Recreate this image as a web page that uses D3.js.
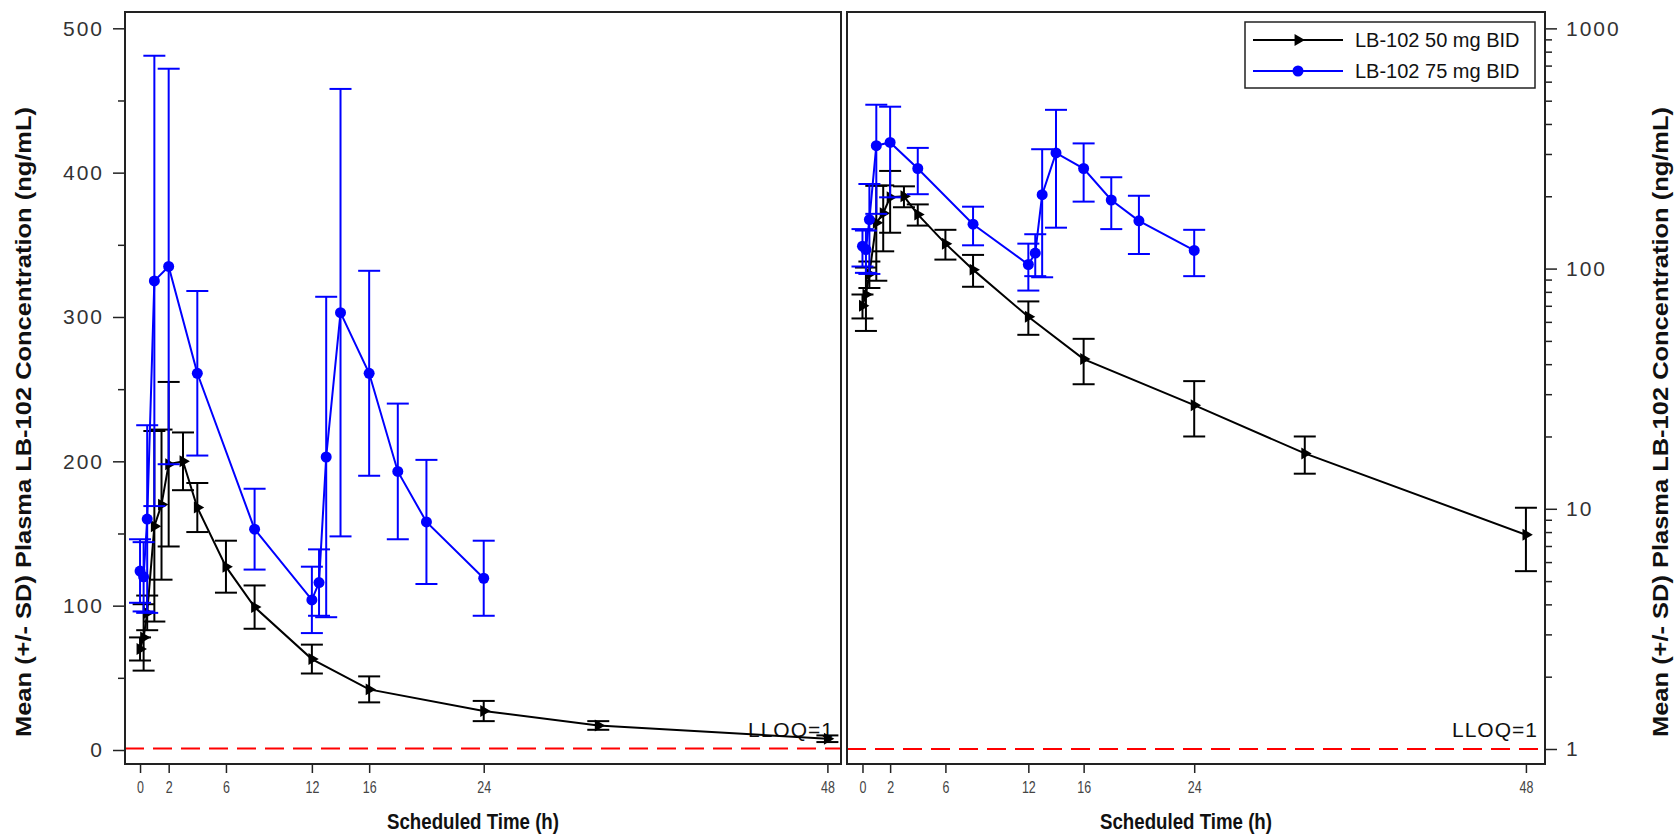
<!DOCTYPE html>
<html>
<head>
<meta charset="utf-8">
<script src="https://cdn.jsdelivr.net/npm/d3@7"></script>
<style>
  body { margin: 0; background: #fff; }
  svg { display: block; }
  .tick text { font-family: "Liberation Sans", Arial, sans-serif; }
</style>
</head>
<body>
<div id="chart"></div>
<script>
// LB-102 50 mg BID
const times50 = [0, 0.25, 0.5, 1, 1.5, 2, 3, 4, 6, 8, 12, 16, 24, 32, 48];
const mean50 = [70, 78, 95, 155, 170, 198, 200, 168, 127, 99, 63, 42, 27, 17, 7.8];
const sd50 = [8, 23, 12, 66, 52, 57, 20, 17, 18, 15, 10, 9, 7, 3, 2.3];
// LB-102 75 mg BID
const times75 = [0, 0.25, 0.5, 1, 2, 4, 8, 12, 12.5, 13, 14, 16, 18, 20, 24];
const mean75 = [124, 120, 160, 325, 335, 261, 153, 104, 116, 203, 303, 261, 193, 158, 119];
const sd75 = [22, 24, 65, 156, 137, 57, 28, 23, 23, 111, 155, 71, 47, 43, 26];

const seriesNames = ["LB-102 50 mg BID", "LB-102 75 mg BID"];
const xTicks = [0, 2, 6, 12, 16, 24, 48];
const linTicks = [0, 100, 200, 300, 400, 500];
const logTicks = [1, 10, 100, 1000];
const lloq = 1;
const xTitle = "Scheduled Time (h)";
const yTitle = "Mean (+/- SD) Plasma LB-102 Concentration (ng/mL)";

const width = 1676, height = 835;
const frameTop = 12, frameBottom = 764;
const sans = '"Liberation Sans", Arial, sans-serif';

const series = [
    { name: seriesNames[0], color: "#000", marker: "tri",
      pts: times50.map((t, i) => ({ t, m: mean50[i], sd: sd50[i] })) },
    { name: seriesNames[1], color: "#0000ff", marker: "dot",
      pts: times75.map((t, i) => ({ t, m: mean75[i], sd: sd75[i] })) }
];

let svg = d3.select("#chart").append("svg")
    .attr("width", width)
    .attr("height", height);

function marker(sel, s) {
    if (s.marker === "dot") {
        sel.append("circle").attr("r", 5.5).attr("fill", s.color);
    } else {
        sel.append("path")
            .attr("d", d3.symbol(d3.symbolTriangle, 62)())
            .attr("transform", "rotate(90)")
            .attr("fill", s.color);
    }
}

// bold condensed title, squeezed to the reference length
function title(sel, str, len) {
    return sel.append("text")
        .attr("text-anchor", "middle")
        .attr("font-family", sans)
        .attr("font-weight", "bold")
        .attr("font-size", 22)
        .attr("fill", "#111")
        .attr("textLength", len)
        .attr("lengthAdjust", "spacingAndGlyphs")
        .text(str);
}

function panel(x, y, isLog) {
    const [x0, x1] = x.range();
    const g = svg.append("g");

    // x axis
    g.append("g")
        .attr("transform", `translate(0,${frameBottom})`)
        .call(d3.axisBottom(x).tickValues(xTicks).tickSize(9).tickPadding(9))
        .call(a => a.select(".domain").remove())
        .call(a => a.selectAll("line").attr("stroke", "#222").attr("stroke-width", 1.5))
        .call(a => a.selectAll("text")
            .attr("font-size", 16)
            .attr("transform", "scale(0.78,1)")
            .attr("fill", "#444"));

    // y axis
    let major, minor;
    if (isLog) {
        const minorVals = d3.range(0, 3).flatMap(e => d3.range(2, 10).map(k => k * Math.pow(10, e)));
        major = d3.axisRight(y).tickValues(logTicks).tickFormat(d3.format("d"));
        minor = d3.axisRight(y).tickValues(minorVals).tickFormat("");
    } else {
        major = d3.axisLeft(y).tickValues(linTicks);
        minor = d3.axisLeft(y).tickValues(d3.range(50, 500, 100)).tickFormat("");
    }
    const ax = isLog ? x1 : x0;
    g.append("g")
        .attr("transform", `translate(${ax},0)`)
        .call(major.tickSize(12).tickPadding(9))
        .call(a => a.select(".domain").remove())
        .call(a => a.selectAll("line").attr("stroke", "#222").attr("stroke-width", 1.5))
        .call(a => a.selectAll("text").attr("font-size", 21).attr("letter-spacing", 2).attr("fill", "#333"));
    g.append("g")
        .attr("transform", `translate(${ax},0)`)
        .call(minor.tickSize(7))
        .call(a => a.select(".domain").remove())
        .call(a => a.selectAll("line").attr("stroke", "#222").attr("stroke-width", 1.5));

    // LLOQ reference line
    g.append("line")
        .attr("x1", x0).attr("x2", x1)
        .attr("y1", y(lloq)).attr("y2", y(lloq))
        .attr("stroke", "#ff0000")
        .attr("stroke-width", 2)
        .attr("stroke-dasharray", "19,9");
    g.append("text")
        .attr("x", x1 - 7)
        .attr("y", y(lloq) - 12)
        .attr("text-anchor", "end")
        .attr("font-family", sans)
        .attr("font-size", 21)
        .attr("letter-spacing", 1)
        .attr("fill", "#111")
        .text("LLOQ=" + lloq);

    // series
    let line = d3.line()
        .x(d => x(d.t))
        .y(d => y(d.m));
    series.forEach(s => {
        const sg = g.append("g");
        const lo = d => y(Math.max(d.m - d.sd, y.domain()[0]));
        const hi = d => y(d.m + d.sd);
        const bars = sg.selectAll(".bar").data(s.pts).join("g")
            .attr("stroke", s.color)
            .attr("stroke-width", 2);
        bars.append("line")
            .attr("x1", d => x(d.t)).attr("x2", d => x(d.t))
            .attr("y1", lo).attr("y2", hi);
        bars.append("line")
            .attr("x1", d => x(d.t) - 11).attr("x2", d => x(d.t) + 11)
            .attr("y1", hi).attr("y2", hi);
        bars.append("line")
            .attr("x1", d => x(d.t) - 11).attr("x2", d => x(d.t) + 11)
            .attr("y1", lo).attr("y2", lo);
        sg.append("path")
            .attr("d", line(s.pts))
            .attr("fill", "none")
            .attr("stroke", s.color)
            .attr("stroke-width", 2);
        sg.selectAll(".mk").data(s.pts).join("g")
            .attr("transform", d => `translate(${x(d.t)},${y(d.m)})`)
            .each(function () { marker(d3.select(this), s); });
    });

    // frame
    g.append("rect")
        .attr("x", x0).attr("y", frameTop)
        .attr("width", x1 - x0).attr("height", frameBottom - frameTop)
        .attr("fill", "none")
        .attr("stroke", "#222")
        .attr("stroke-width", 2);

    title(g, xTitle, 172)
        .attr("x", (x0 + x1) / 2 - 10)
        .attr("y", 829);
    return g;
}

let xL = d3.scaleLinear().domain([-1.05, 48.95]).range([125, 841]);
let yL = d3.scaleLinear().domain([-9.7, 511.3]).range([frameBottom, frameTop]);
let xR = d3.scaleLinear().domain([-1.12, 49.38]).range([847, 1545]);
let yR = d3.scaleLog().domain([0.866, 1170]).range([frameBottom, frameTop]);

panel(xL, yL, false);
const right = panel(xR, yR, true);

// y titles
[31, 1668].forEach(px => {
    title(svg.append("g").attr("transform", `translate(${px},422) rotate(-90)`), yTitle, 630);
});

// legend
const lg = right.append("g");
lg.append("rect")
    .attr("x", 1245).attr("y", 22)
    .attr("width", 290).attr("height", 66)
    .attr("fill", "#fff")
    .attr("stroke", "#222")
    .attr("stroke-width", 1.5);
series.forEach((s, i) => {
    const ry = 40 + i * 31;
    lg.append("line")
        .attr("x1", 1253).attr("x2", 1343)
        .attr("y1", ry).attr("y2", ry)
        .attr("stroke", s.color)
        .attr("stroke-width", 2);
    marker(lg.append("g").attr("transform", `translate(1298,${ry})`), s);
    lg.append("text")
        .attr("x", 1355).attr("y", ry)
        .attr("dy", "0.35em")
        .attr("font-family", sans)
        .attr("font-size", 20)
        .attr("fill", "#111")
        .text(s.name);
});
</script>
</body>
</html>
